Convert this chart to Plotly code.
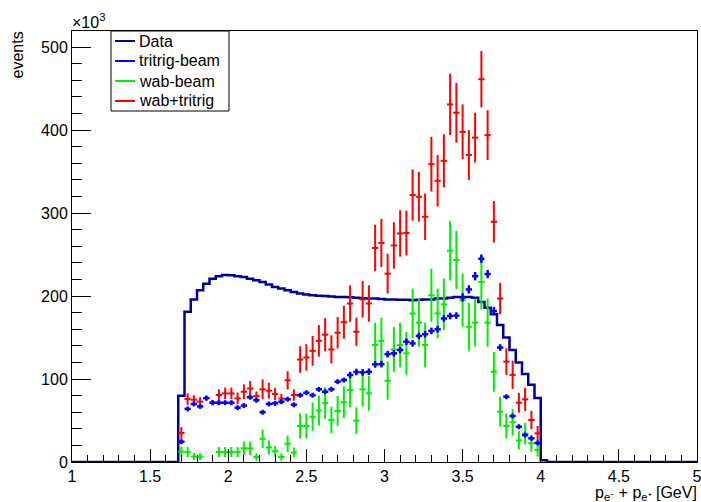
import numpy as np
import plotly.graph_objects as go

# ---------------- data ----------------
bin_lo, bin_hi, bin_w = 1.0, 5.0, 0.04
data_first_edge = 1.68          # first non-empty bin of the Data histogram
point_first_center = 1.70       # first bin centre of the point series

# Data histogram (x10^3 events), bins 1.68 .. 4.04
data_counts = [80, 181, 196, 207, 215, 221, 224, 225.5,
               225, 224, 223, 221, 219, 217, 214, 211, 209, 207, 205, 203, 202, 201,
               200.5, 200, 199.5, 199, 199, 198.5, 198, 197.5, 197, 197, 196.5,
               196, 196, 195.5, 195.5, 195, 195.5, 196, 196, 197, 197, 198, 199, 199,
               199, 198, 193, 186, 178, 165, 150, 135, 120, 106, 93, 77,
               2]

# tritrig-beam, centres 1.70 .. 3.98
tritrig = [24.5, 64, 70, 67, 77, 71.5, 71.5, 71.5,
           71.5, 65.5, 68, 78, 74.5, 60, 70, 70.7, 72.7, 75.7, 69, 80.5, 83.5, 80.5,
           87.6, 84.7, 87.6, 96.8, 98.8, 104.8, 108.5, 108, 108.8, 117.7, 118,
           130, 131, 135, 145, 143, 152, 154, 158, 160, 173, 176, 176.5, 198.4,
           208, 224, 245, 226.5, 182, 138, 78.7, 55.4, 42.5, 32.5, 28.5, 23]
tritrig_err = [3, 3, 3, 3, 3, 3, 3, 3,
               3, 3, 3, 3, 3, 3, 3, 3, 3, 3, 3, 3, 3, 3,
               3, 3, 3, 3, 3, 4, 4, 4, 4, 4, 4,
               4, 4, 4, 4, 4, 4, 4, 4, 4, 4, 4, 4, 5,
               5, 5, 5, 5, 5, 4, 3, 3, 3, 3, 3, 3]

# wab-beam
wab = [12.5, 12, 6.5, 6.5, None, None, 12, 12,
       12, 12, 16.5, 16.5, 6, 28, 17.5, 13, 6, 22, 11.5, 43.4, 43.4, 54.6,
       62, 71, 50.5, 61.5, 72, 86.7, 49.8, 87.6, 82.8, 141, 146,
       98, 135.7, 141, 131, 179, 168, 141, 201, 179, 190, 254.6, 243.5, 195,
       163, 168, 217, 168, 108.8, 60.6, 43.4, 48, 26, 34, 22.5, 14.5]
wab_err = [6, 6, 4.5, 4.5, 0, 0, 6, 6,
           6, 6, 8, 8, 4.5, 11, 8.5, 6.5, 4.5, 10, 6, 15, 15, 17,
           18, 19, 16, 18, 19, 21, 16, 21, 21, 27, 28,
           23, 27, 27, 26, 30, 29, 27, 32, 30, 31, 36, 35, 32,
           29, 29, 33, 29, 24, 18, 15, 16, 11, 13, 10, 8]

# wab+tritrig
wabtri = [35, 75.9, 75, 72.7, 77, 71.5, 80.7, 82.7,
          82.7, 76.7, 84.7, 88.7, 79.5, 87.6, 86, 82, 76.5, 98.5, 80.7, 123.5, 126, 134,
          146, 153.5, 135.7, 155.8, 168.5, 191, 157, 196, 191, 258, 264,
          227, 261, 275.5, 276, 321.7, 319.7, 295.6, 359, 339, 363, 431, 421, 398,
          370, 391, 461.4, 394, 289.5, 197, 121, 105, 71.5, 75.5, 50.6, 34.5]
wabtri_err = [7, 7, 5.5, 5.5, 3, 3, 7, 7,
              7, 7, 9, 9, 5.5, 12, 9.5, 7.5, 5.5, 11, 7, 16, 16, 18,
              19, 20, 17, 19, 20, 22, 17, 22, 22, 28, 29,
              24, 28, 28, 27, 31, 30, 28, 33, 31, 32, 37, 36, 33,
              30, 30, 34, 30, 25, 19, 16, 17, 12, 14, 11, 9]

x_tick_vals = [1, 1.5, 2, 2.5, 3, 3.5, 4, 4.5, 5]
x_tick_text = ["1", "1.5", "2", "2.5", "3", "3.5", "4", "4.5", "5"]
y_tick_vals = [0, 100, 200, 300, 400, 500]
y_tick_text = ["0", "100", "200", "300", "400", "500"]

legend_names = ["Data", "tritrig-beam", "wab-beam", "wab+tritrig"]

# ---------------- styles ----------------
C_DATA = "#000099"
C_TRI = "#0000ff"
C_WAB = "#00ee00"
C_SUM = "#ff0000"
FONT = "Liberation Sans"

# ---------------- build ----------------
nbins = int(round((bin_hi - bin_lo) / bin_w))
edges = np.round(bin_lo + bin_w * np.arange(nbins + 1), 4)
n_before = int(round((data_first_edge - bin_lo) / bin_w))
n_after = nbins - n_before - len(data_counts)
y_full = [0] * n_before + list(data_counts) + [0] * n_after
y_step = y_full + [y_full[-1]]

centers = np.round(point_first_center + bin_w * np.arange(len(tritrig)), 4)

fig = go.Figure()
fig.add_trace(go.Scatter(x=edges, y=y_step, mode="lines", line_shape="hv",
                         line=dict(color=C_DATA, width=2.5), name=legend_names[0],
                         showlegend=False))


def pts(y, err, color, thick, name):
    return go.Scatter(
        x=centers, y=y, mode="markers", name=name, showlegend=False,
        marker=dict(size=2, color=color),
        error_y=dict(type="data", array=err, color=color, thickness=thick, width=0),
        error_x=dict(type="constant", value=bin_w / 2, color=color, thickness=thick, width=0),
    )


fig.add_trace(pts(wab, wab_err, C_WAB, 2, legend_names[2]))
fig.add_trace(pts(wabtri, wabtri_err, C_SUM, 2, legend_names[3]))
fig.add_trace(pts(tritrig, tritrig_err, C_TRI, 2.5, legend_names[1]))

W, H = 701, 502
L, R, T, B = 72, 4, 31, 40
pw, ph = W - L - R, H - T - B


def px(xp):
    return (xp - L) / pw


def py(yp):
    return (H - B - yp) / ph


axis_font = dict(family=FONT, size=16, color="black")
fig.update_layout(
    width=W, height=H, margin=dict(l=L, r=R, t=T, b=B, autoexpand=False),
    paper_bgcolor="white", plot_bgcolor="white",
    font=dict(family=FONT, color="black"),
    xaxis=dict(range=[bin_lo, bin_hi], tickmode="array", tickvals=x_tick_vals,
               ticktext=x_tick_text, ticks="inside", ticklen=13, tickwidth=1,
               tickcolor="black", showline=True, linecolor="black", linewidth=1,
               mirror=True, showgrid=False, zeroline=False, tickfont=axis_font,
               ticklabeloverflow="allow", automargin=False,
               minor=dict(tickmode="linear", tick0=1, dtick=0.1, ticks="inside",
                          ticklen=7, tickcolor="black", tickwidth=1, showgrid=False)),
    yaxis=dict(range=[0, 519.5], tickmode="array", tickvals=y_tick_vals,
               ticktext=y_tick_text, ticks="inside", ticklen=19, tickwidth=1,
               tickcolor="black", showline=True, linecolor="black", linewidth=1,
               mirror=True, showgrid=False, zeroline=False, tickfont=axis_font,
               automargin=False,
               minor=dict(tickmode="linear", tick0=0, dtick=20, ticks="inside",
                          ticklen=10, tickcolor="black", tickwidth=1, showgrid=False)),
)

ann = []
ann.append(dict(text="events", textangle=-90, xref="paper", yref="paper",
                x=px(17), y=py(30), xanchor="center", yanchor="top",
                showarrow=False, font=dict(family=FONT, size=16, color="black")))
ann.append(dict(text="×10<sup>3</sup>", xref="paper", yref="paper",
                x=px(70), y=py(21), xanchor="left", yanchor="middle",
                showarrow=False, font=dict(family=FONT, size=16, color="black")))
ann.append(dict(text="p<sub>e⁻</sub> + p<sub>e⁺</sub> [GeV]", xref="paper", yref="paper",
                x=px(699), y=py(493), xanchor="right", yanchor="middle",
                showarrow=False, font=dict(family=FONT, size=16, color="black")))

shapes = [dict(type="rect", xref="paper", yref="paper", x0=px(111), x1=px(229),
               y0=py(31), y1=py(111), line=dict(color="black", width=1),
               fillcolor="white", layer="above")]
leg_colors = [C_DATA, C_TRI, C_WAB, C_SUM]
for i, (nm, col) in enumerate(zip(legend_names, leg_colors)):
    yy = 41 + 20 * i
    shapes.append(dict(type="line", xref="paper", yref="paper", x0=px(115), x1=px(135),
                       y0=py(yy), y1=py(yy), line=dict(color=col, width=2)))
    ann.append(dict(text=nm, xref="paper", yref="paper", x=px(137), y=py(yy),
                    xanchor="left", yanchor="middle", showarrow=False,
                    font=dict(family=FONT, size=16, color="black")))

fig.update_layout(annotations=ann, shapes=shapes)
fig.write_html("out.html")
